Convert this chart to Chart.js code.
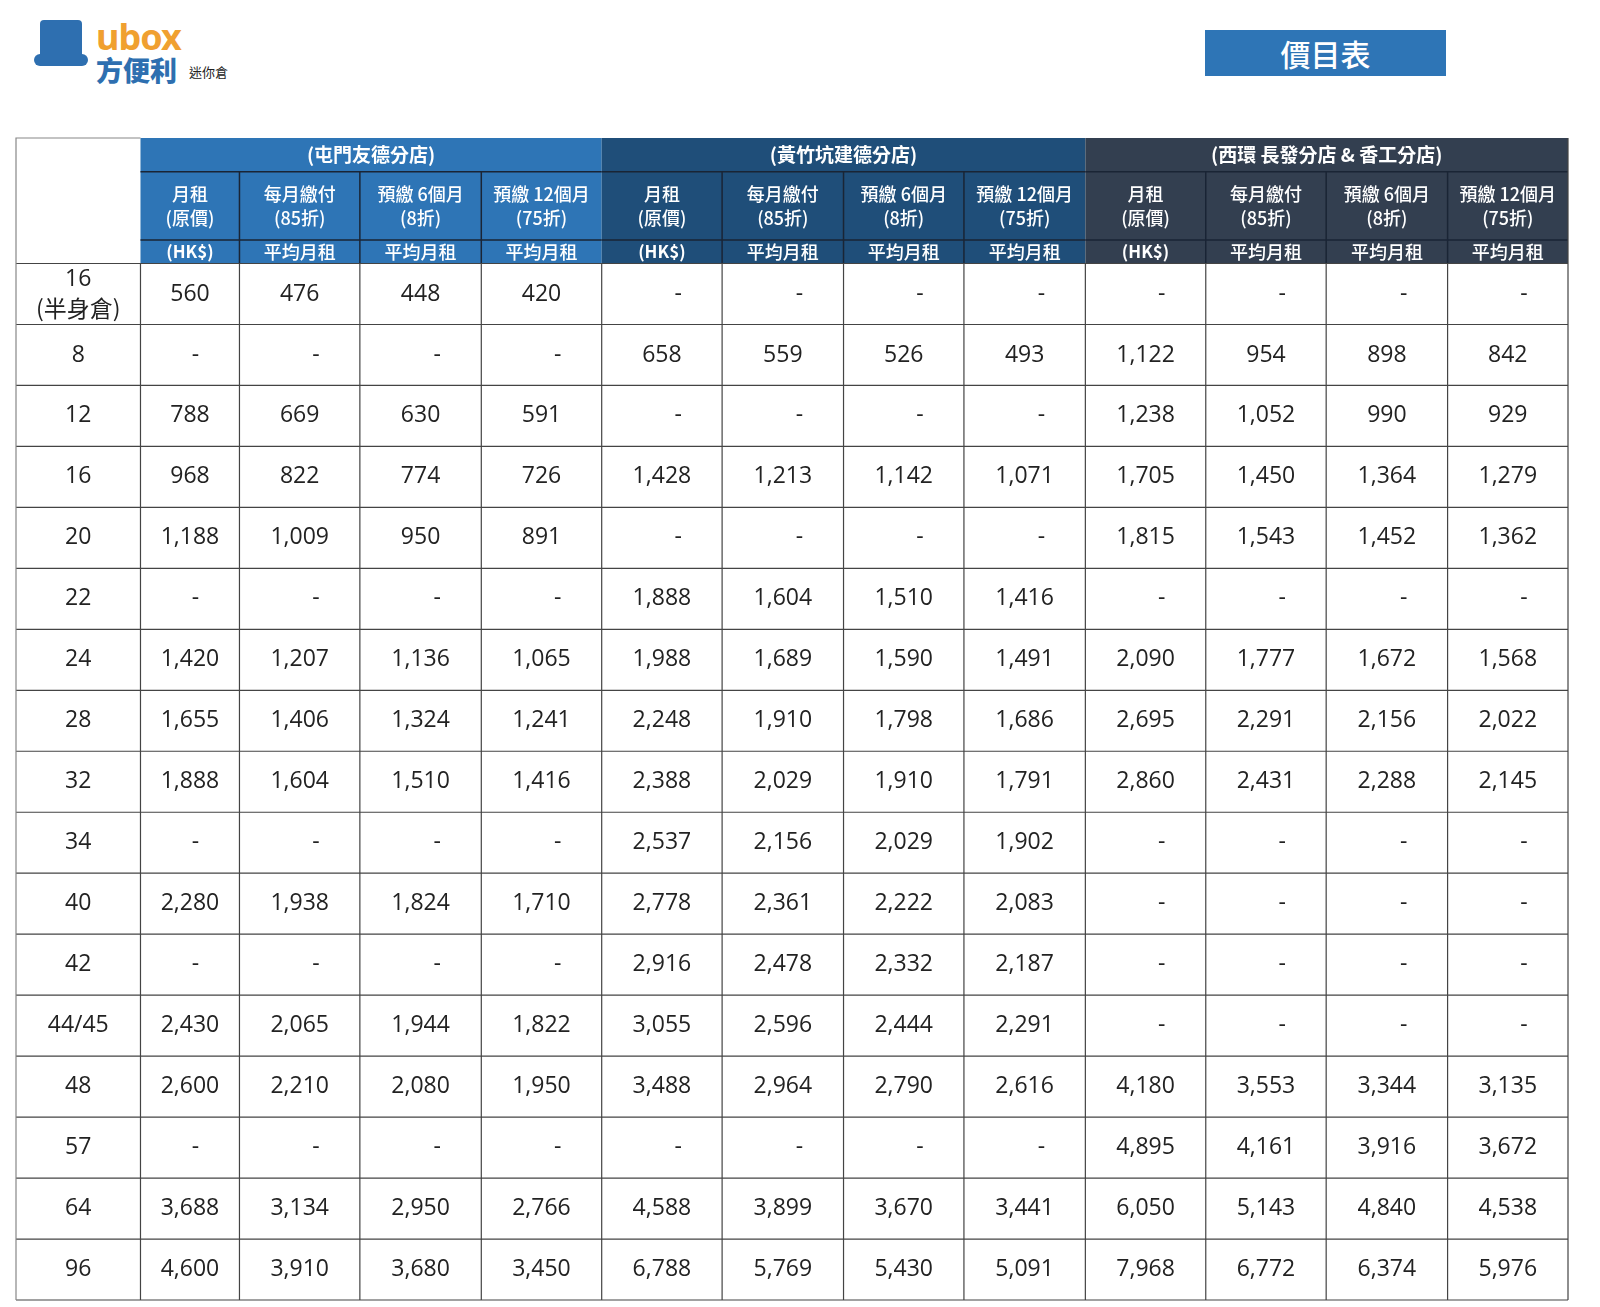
<!DOCTYPE html>
<html><head><meta charset="utf-8">
<script src="https://cdn.jsdelivr.net/npm/chart.js@4"></script>
<style>
body{margin:0;background:#fff;width:1600px;height:1307px;position:relative;font-family:"Noto Sans CJK TC",sans-serif}
#logo{position:absolute;left:34px;top:14px;width:210px;height:72px}
#logo .ub{position:absolute;left:62px;top:-2px;font:bold 36px "Noto Sans";color:#f0a030;letter-spacing:-1px}
#logo .cn{position:absolute;left:62px;top:36px;font:900 27px "Noto Sans CJK TC";color:#2e6fb0}
#logo .sm{position:absolute;left:155px;top:48px;font:13px "Noto Sans CJK TC";color:#222}
#logo .box{position:absolute;left:6px;top:6px;width:42px;height:40px;background:#2e6fb0;border-radius:4px}
#logo .leg{position:absolute;left:0;top:40px;width:54px;height:12px;background:#2e6fb0;border-radius:6px}
#title{position:absolute;left:1205px;top:30px;width:241px;height:46px;background:#2e75b6;color:#fff;font:500 30px "Noto Sans CJK TC";text-align:center;line-height:46px}
#wrap{position:absolute;left:15px;top:137px;width:1554px;height:1164px}
</style></head><body>
<div id="logo"><div class="box"></div><div class="leg"></div><div class="ub">ubox</div><div class="cn">方便利</div><div class="sm">迷你倉</div></div>
<div id="title">價目表</div>
<div id="wrap"><canvas id="c"></canvas></div>
<script>
const stores = ['(屯門友德分店)', '(黃竹坑建德分店)', '(西環 長發分店 & 香工分店)'];
const storeColors = ['#2e75b6', '#1f4e79', '#333f50'];
const colHead = ['月租\n(原價)', '每月繳付\n(85折)', '預繳 6個月\n(8折)', '預繳 12個月\n(75折)'];
const colSub = ['(HK$)', '平均月租', '平均月租', '平均月租'];
const sizes = ['16\n(半身倉)', '8', '12', '16', '20', '22', '24', '28', '32', '34', '40', '42', '44/45', '48', '57', '64', '96'];
const tuenMun = [
  [560,476,448,420],[null,null,null,null],[788,669,630,591],[968,822,774,726],
  [1188,1009,950,891],[null,null,null,null],[1420,1207,1136,1065],[1655,1406,1324,1241],
  [1888,1604,1510,1416],[null,null,null,null],[2280,1938,1824,1710],[null,null,null,null],
  [2430,2065,1944,1822],[2600,2210,2080,1950],[null,null,null,null],[3688,3134,2950,2766],
  [4600,3910,3680,3450]];
const wongChukHang = [
  [null,null,null,null],[658,559,526,493],[null,null,null,null],[1428,1213,1142,1071],
  [null,null,null,null],[1888,1604,1510,1416],[1988,1689,1590,1491],[2248,1910,1798,1686],
  [2388,2029,1910,1791],[2537,2156,2029,1902],[2778,2361,2222,2083],[2916,2478,2332,2187],
  [3055,2596,2444,2291],[3488,2964,2790,2616],[null,null,null,null],[4588,3899,3670,3441],
  [6788,5769,5430,5091]];
const saiWan = [
  [null,null,null,null],[1122,954,898,842],[1238,1052,990,929],[1705,1450,1364,1279],
  [1815,1543,1452,1362],[null,null,null,null],[2090,1777,1672,1568],[2695,2291,2156,2022],
  [2860,2431,2288,2145],[null,null,null,null],[null,null,null,null],[null,null,null,null],
  [null,null,null,null],[4180,3553,3344,3135],[4895,4161,3916,3672],[6050,5143,4840,4538],
  [7968,6772,6374,5976]];
const storeData = [tuenMun, wongChukHang, saiWan];

// relative widths / heights (layout)
const colW = [122, 97, 118, 119, 118, 118, 119, 118, 119, 118, 118, 119, 118];
const headH = [33, 67, 23];
const rowH = 59.75;
const colEdges = [0]; colW.forEach(w => colEdges.push(colEdges[colEdges.length-1] + w));
const rowEdges = [0]; headH.forEach(h => rowEdges.push(rowEdges[rowEdges.length-1] + h));
sizes.forEach(() => rowEdges.push(rowEdges[rowEdges.length-1] + rowH));

const fmt = v => v == null ? '-' : v.toLocaleString('en-US');

const tablePlugin = {
  id: 'table',
  afterDraw(chart) {
    const ctx = chart.ctx, xs = chart.scales.x, ys = chart.scales.y;
    const X = i => xs.getPixelForValue(colEdges[i]);
    const Y = i => ys.getPixelForValue(rowEdges[i]);
    ctx.save();
    ctx.textAlign = 'center'; ctx.textBaseline = 'middle';
    stores.forEach((s, k) => {
      const c0 = 1 + k*4, c1 = c0 + 4;
      ctx.fillStyle = storeColors[k];
      ctx.fillRect(X(c0), Y(0), X(c1)-X(c0), Y(3)-Y(0));
      ctx.fillStyle = '#fff';
      ctx.font = 'bold 19px "Noto Sans CJK TC"';
      ctx.fillText(s, (X(c0)+X(c1))/2, (Y(0)+Y(1))/2);
      ctx.strokeStyle = '#1a2535'; ctx.lineWidth = 1.5;
      ctx.beginPath(); ctx.moveTo(X(c0), Y(1)); ctx.lineTo(X(c1), Y(1));
      ctx.moveTo(X(c0), Y(2)); ctx.lineTo(X(c1), Y(2)); ctx.stroke();
      for (let j = 0; j < 4; j++) {
        const cx = (X(c0+j)+X(c0+j+1))/2;
        if (j > 0) { ctx.beginPath(); ctx.moveTo(X(c0+j), Y(1)); ctx.lineTo(X(c0+j), Y(3)); ctx.stroke(); }
        ctx.font = '500 18px "Noto Sans CJK TC"';
        const lines = colHead[j].split('\n');
        ctx.fillText(lines[0], cx, (Y(1)+Y(2))/2 - 12);
        ctx.fillText(lines[1], cx, (Y(1)+Y(2))/2 + 12);
        ctx.font = (j === 0 ? 'bold 17px ' : '500 18px ') + '"Noto Sans CJK TC"';
        ctx.fillText(colSub[j], cx, (Y(2)+Y(3))/2);
      }
    });
    ctx.fillStyle = '#222';
    sizes.forEach((sz, r) => {
      const y0 = Y(3+r), y1 = Y(4+r), cy = (y0+y1)/2;
      ctx.font = '23px "Open Sans"';
      const ls = sz.split('\n');
      if (ls.length > 1) {
        ctx.fillText(ls[0], (X(0)+X(1))/2, cy - 15);
        ctx.font = '23px "Noto Sans CJK TC"';
        ctx.fillText(ls[1], (X(0)+X(1))/2, cy + 14);
      } else ctx.fillText(sz, (X(0)+X(1))/2, cy);
      ctx.font = '23px "Open Sans"';
      storeData.forEach((d, k) => d[r].forEach((v, j) => {
        const c = 1 + k*4 + j;
        const cx = v == null ? X(c+1) - 44 : (X(c)+X(c+1))/2;
        ctx.fillText(fmt(v), cx, cy);
      }));
    });
    ctx.strokeStyle = '#444'; ctx.lineWidth = 1.2;
    ctx.beginPath();
    for (let r = 3; r <= rowEdges.length-1; r++) { ctx.moveTo(X(0), Y(r)); ctx.lineTo(X(13), Y(r)); }
    for (let c = 1; c <= 13; c++) { ctx.moveTo(X(c), Y(c === 13 ? 0 : 3)); ctx.lineTo(X(c), Y(rowEdges.length-1)); }
    ctx.stroke();
    ctx.strokeStyle = '#888';
    ctx.beginPath(); ctx.moveTo(X(0), Y(rowEdges.length-1)); ctx.lineTo(X(0), Y(0)); ctx.lineTo(X(1), Y(0)); ctx.stroke();
    ctx.restore();
  }
};

new Chart(document.getElementById('c'), {
  type: 'scatter',
  data: { datasets: [] },
  options: {
    responsive: true, maintainAspectRatio: false, animation: false,
    layout: { padding: 1 },
    plugins: { legend: { display: false }, tooltip: { enabled: false } },
    scales: {
      x: { type: 'linear', min: 0, max: colEdges[colEdges.length-1], display: false },
      y: { type: 'linear', min: 0, max: rowEdges[rowEdges.length-1], reverse: true, display: false }
    }
  },
  plugins: [tablePlugin]
});
</script>
</body></html>
